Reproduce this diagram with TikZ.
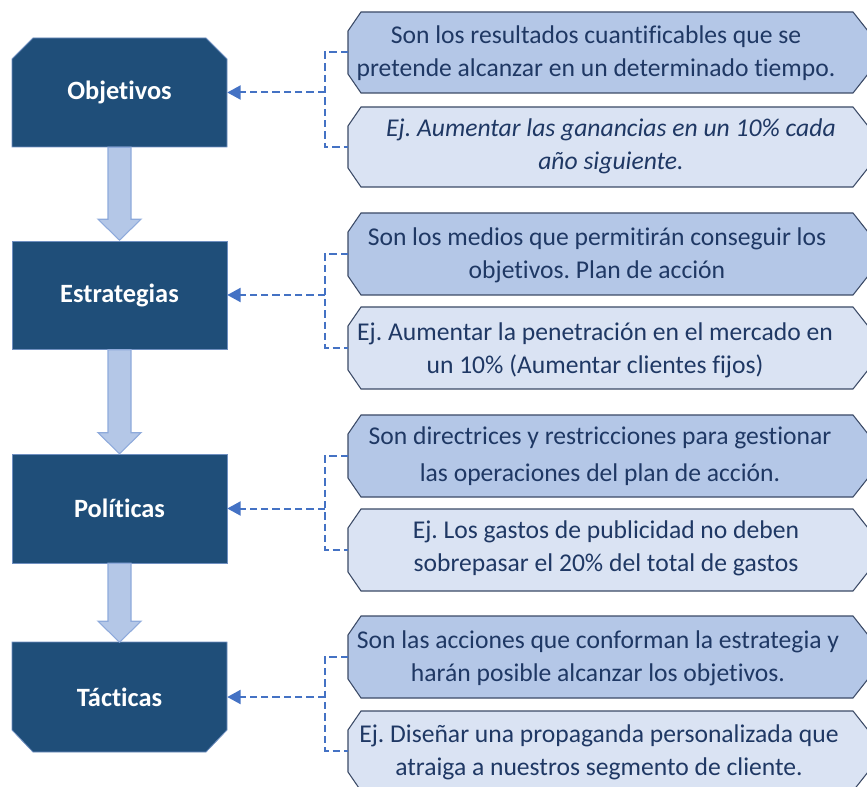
\documentclass[tikz,border=0pt]{standalone}
\usepackage{fontspec}
\setmainfont{Carlito}[Ligatures={NoCommon}]
\usetikzlibrary{arrows.meta,calc}
\frenchspacing
\definecolor{navy}{HTML}{1F4E79}
\definecolor{navyedge}{HTML}{6F8FC0}
\definecolor{lightb}{HTML}{B4C7E7}
\definecolor{lightbedge}{HTML}{8EAADB}
\definecolor{paleb}{HTML}{DAE3F3}
\definecolor{boxedge}{HTML}{3B4A66}
\definecolor{dashc}{HTML}{4472C4}
\definecolor{txt}{HTML}{1F3864}
\tikzset{
  leftshape/.style={fill=navy, draw=navyedge, line width=0.6pt},
  lefttext/.style={text=white, font=\fontsize{19.8}{23}\selectfont\bfseries, minimum width=161.25pt, minimum height=81.75pt, inner sep=0pt},
  topbox/.style={fill=lightb, draw=boxedge, line width=0.8pt},
  exbox/.style={fill=paleb, draw=boxedge, line width=0.8pt},
  desc/.style={text=txt, font=\fontsize{19.2}{24.5}\selectfont\frenchspacing, align=center, inner sep=0pt},
  wdesc/.style={text=txt, font=\fontsize{19.2}{28}\selectfont\frenchspacing, align=center, inner sep=0pt},
  idesc/.style={desc, font=\fontsize{19.2}{24.5}\selectfont\itshape\frenchspacing},
  barrow/.style={fill=lightb, draw=lightbedge, line width=0.8pt},
  dashlink/.style={draw=dashc, line width=1.5pt, dash pattern=on 5.5pt off 3pt},
  dasharrow/.style={dashlink, -{Triangle[length=10pt,width=10.5pt]}}
}
\newcommand\descbox[4]{%
  \draw[#4] (348,#2+19) -- (361,#2) -- (853,#2) -- (868,#2+19) -- (868,#3-19) -- (853,#3) -- (361,#3) -- (348,#3-19) -- cycle;
  \coordinate (#1) at (348,{(#2+#3)/2});
}
\newcommand\blockarrow[2]{%
  \path[barrow] let \p1=(#1.south), \p2=(#2.north) in
   (\x1-8.625pt,\y1) -- (\x1-8.625pt,\y2+15.75pt) -- (\x1-16.125pt,\y2+15.75pt) -- (\x1,\y2)
   -- (\x1+16.125pt,\y2+15.75pt) -- (\x1+8.625pt,\y2+15.75pt) -- (\x1+8.625pt,\y1) -- cycle;
}
\begin{document}
\begin{tikzpicture}[x=0.75pt,y=-0.75pt]
\useasboundingbox (0,0) rectangle (867,787);
\clip (0,0) rectangle (867,787);
% left boxes
\path[leftshape] (12,147) -- (12,59) -- (33,38) -- (206,38) -- (227,59) -- (227,147) -- cycle;
\path[leftshape] (12,241) rectangle (227,349);
\path[leftshape] (12,454) rectangle (227,563);
\path[leftshape] (12,642) -- (227,642) -- (227,730) -- (206,752) -- (33,752) -- (12,730) -- cycle;
\node[lefttext] (obj) at (119.5,92.5) {Objetivos};
\node[lefttext] (est) at (119.5,295) {Estrategias};
\node[lefttext] (pol) at (119.5,508.5) {Políticas};
\node[lefttext] (tac) at (119.5,697) {Tácticas};
\blockarrow{obj}{est}
\blockarrow{est}{pol}
\blockarrow{pol}{tac}
% right boxes
\descbox{r1}{12}{93}{topbox}
\descbox{r2}{107}{187}{exbox}
\descbox{r3}{213}{295}{topbox}
\descbox{r4}{307}{389}{exbox}
\descbox{r5}{415}{497}{topbox}
\descbox{r6}{509}{591}{exbox}
\descbox{r7}{616}{698}{topbox}
\descbox{r8}{711}{791}{exbox}
\node[desc] (t1) at (596,53.5) {Son los resultados cuantificables que se\\pretende alcanzar en un determinado tiempo.};
\node[idesc] (t2) at (611,146) {Ej. Aumentar las ganancias en un 10\% cada\\año siguiente.};
\node[desc] (t3) at (597,255) {Son los medios que permitirán conseguir los\\objetivos. Plan de acción};
\node[desc] (t4) at (595,350) {Ej. Aumentar la penetración en el mercado en\\un 10\% (Aumentar clientes fijos)};
\node[wdesc] (t5) at (600,456) {Son directrices y restricciones para gestionar\\las operaciones del plan de acción.};
\node[desc] (t6) at (606,548) {Ej. Los gastos de publicidad no deben\\sobrepasar el 20\% del total de gastos};
\node[desc] (t7) at (598,658) {Son las acciones que conforman la estrategia y\\harán posible alcanzar los objetivos.};
\node[desc] (t8) at (599,752) {Ej. Diseñar una propaganda personalizada que\\atraiga a nuestros segmento de cliente.};
% dashed links
\coordinate (j1) at (325,0 |- obj);
\coordinate (j2) at (325,0 |- est);
\coordinate (j3) at (325,0 |- pol);
\coordinate (j4) at (325,0 |- tac);
\draw[dashlink] (r1) -| (j1) |- (r2);
\draw[dashlink] (r3) -| (j2) |- (r4);
\draw[dashlink] (r5) -| (j3) |- (r6);
\draw[dashlink] (r7) -| (j4) |- (r8);
\draw[dasharrow] (j1) -- (obj.east);
\draw[dasharrow] (j2) -- (est.east);
\draw[dasharrow] (j3) -- (pol.east);
\draw[dasharrow] (j4) -- (tac.east);
\end{tikzpicture}
\end{document}
